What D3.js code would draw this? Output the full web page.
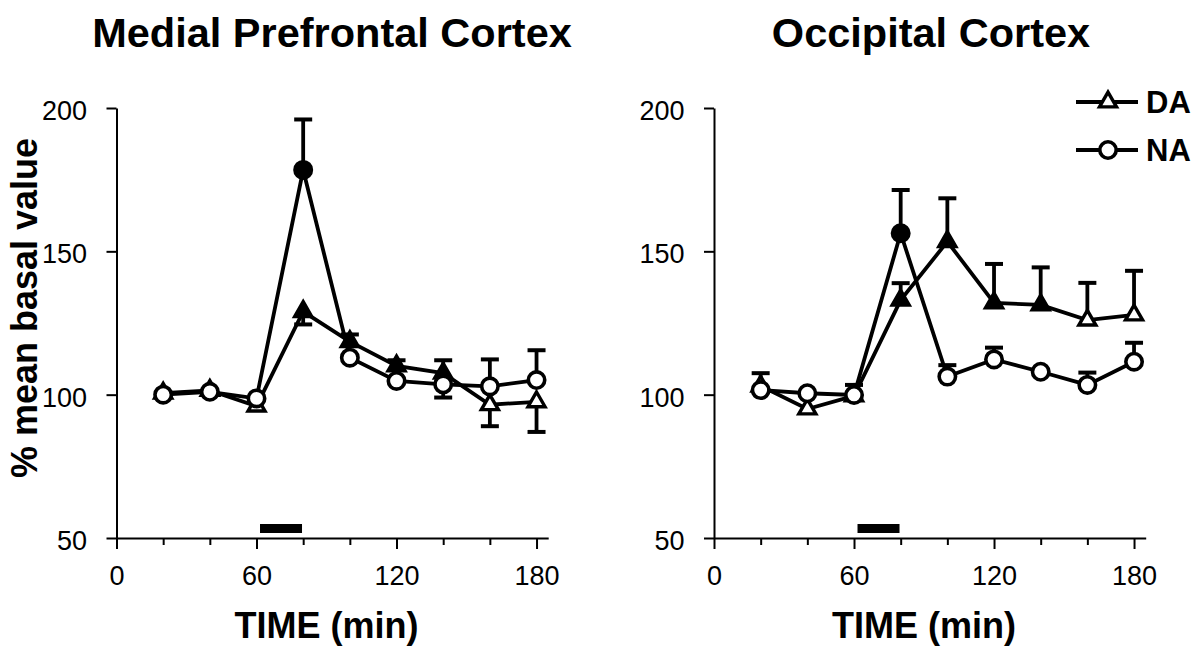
<!DOCTYPE html>
<html><head><meta charset="utf-8">
<script src="https://cdn.jsdelivr.net/npm/d3@7"></script>
<style>body{margin:0;background:#fff} svg{display:block} text{font-family:"Liberation Sans",Arial,sans-serif;fill:#000}</style>
</head><body><svg id="c" width="1200" height="657"></svg>
<script>
const times = [20,40,60,80,100,120,140,160,180];
const panelTitles = ["Medial Prefrontal Cortex","Occipital Cortex"];
const xTickLabels = [0,60,120,180];
const xMinorTicks = [20,40,80,100,140,160];
const yTickLabels = [50,100,150,200];
const seriesNames = ["DA","NA"];
const stimulus = [61.5,79.5];
const yLabel = "% mean basal value";
const xLabel = "TIME (min)";

// Medial prefrontal cortex
const mpfcDA = [100.5,101.5,96,129,118.5,110,107.5,96.5,97.5];
const mpfcDAErr = [null,null,null,124.5,121,112,112,89,87];
const mpfcDAFilled = [0,0,0,1,1,1,1,0,0];
const mpfcNA = [100,101,98.7,178.4,112.9,104.8,103.6,102.9,105.1];
const mpfcNAErr = [null,null,null,196,null,null,99,112.3,115.5];
const mpfcNAFilled = [0,0,0,1,0,0,0,0,0];

// Occipital cortex
const ocDA = [103,95,99.6,133,153.4,132,131.3,126,127.8];
const ocDAErr = [107.5,null,103.4,138.9,168.5,145.6,144.4,139,143.2];
const ocDAFilled = [0,0,0,1,1,1,1,0,0];
const ocNA = [101.6,100.5,99.9,156.3,106.3,112.3,108,103.4,111.5];
const ocNAErr = [null,null,null,171.4,110.3,116.4,null,107.7,118.1];
const ocNAFilled = [0,0,0,1,0,0,0,0,0];

const svg = d3.select("#c");

function triPath(s){const h=s*Math.sqrt(3)/2;return `M0,${-2*h/3}L${s/2},${h/3}L${-s/2},${h/3}Z`;}

const panels = [
  {x0:116.5, tx:332, title:panelTitles[0], DA:[mpfcDA,mpfcDAErr,mpfcDAFilled], NA:[mpfcNA,mpfcNAErr,mpfcNAFilled], ylab:true},
  {x0:714, tx:931, title:panelTitles[1], DA:[ocDA,ocDAErr,ocDAFilled], NA:[ocNA,ocNAErr,ocNAFilled], ylab:false}
];

panels.forEach(p=>{
  const x = d3.scaleLinear().domain([0,185]).range([p.x0, p.x0+431.7]);
  const y = d3.scaleLinear().domain([50,200]).range([538,108]);
  const g = svg.append("g");

  g.append("text").attr("x",p.tx).attr("y",47).attr("text-anchor","middle")
    .style("font-size","41.5px").style("font-weight","bold").text(p.title);

  // x axis major
  const xa = g.append("g").attr("transform","translate(0,538)")
    .call(d3.axisBottom(x).tickValues(xTickLabels).tickSize(11).tickSizeOuter(0));
  xa.select(".domain").attr("stroke","#000").attr("stroke-width",2);
  xa.selectAll(".tick line").attr("stroke","#000").attr("stroke-width",2);
  xa.selectAll(".tick text").attr("y",47).attr("dy",0).style("font-size","27px").attr("font-family",null);
  // x axis minor
  const xm = g.append("g").attr("transform","translate(0,538)")
    .call(d3.axisBottom(x).tickValues(xMinorTicks).tickSize(7).tickFormat(""));
  xm.select(".domain").remove();
  xm.selectAll(".tick line").attr("stroke","#000").attr("stroke-width",2);

  // y axis
  const ya = g.append("g").attr("transform",`translate(${p.x0},0)`)
    .call(d3.axisLeft(y).tickValues(yTickLabels).tickSize(10).tickSizeOuter(0));
  ya.select(".domain").attr("stroke","#000").attr("stroke-width",2);
  ya.selectAll(".tick line").attr("stroke","#000").attr("stroke-width",2);
  ya.selectAll(".tick text").attr("x",-29.5).attr("dy","0.42em").style("font-size","27px").attr("font-family",null);

  g.append("text").attr("x",(x(0)+x(180))/2).attr("y",638).attr("text-anchor","middle")
    .style("font-size","36px").style("font-weight","bold").text(xLabel);

  if(p.ylab){
    g.append("text").attr("transform","translate(37,308) rotate(-90)").attr("text-anchor","middle")
      .style("font-size","36px").style("font-weight","bold").text(yLabel);
  }

  // stimulus bar
  g.append("rect").attr("x",x(stimulus[0])).attr("y",524).attr("width",x(stimulus[1])-x(stimulus[0])).attr("height",9).attr("fill","#000");

  const line = d3.line().x((d,i)=>x(times[i])).y(d=>y(d));
  [p.DA,p.NA].forEach(s=>{
    g.append("path").attr("d",line(s[0])).attr("fill","none").attr("stroke","#000").attr("stroke-width",3.8);
  });

  [["DA",p.DA],["NA",p.NA]].forEach(([name,s])=>{
    const vals=s[0], errs=s[1], filled=s[2];
    times.forEach((t,i)=>{
      if(errs[i]==null) return;
      g.append("line").attr("x1",x(t)).attr("x2",x(t)).attr("y1",y(vals[i])).attr("y2",y(errs[i])).attr("stroke","#000").attr("stroke-width",3.8);
      g.append("line").attr("x1",x(t)-9).attr("x2",x(t)+9).attr("y1",y(errs[i])).attr("y2",y(errs[i])).attr("stroke","#000").attr("stroke-width",4);
    });
    times.forEach((t,i)=>{
      if(name==="DA"){
        g.append("path").attr("d",triPath(17)).attr("transform",`translate(${x(t)},${y(vals[i])})`)
          .attr("fill",filled[i]?"#000":"#fff").attr("stroke","#000").attr("stroke-width",3.4);
      } else {
        g.append("circle").attr("cx",x(t)).attr("cy",y(vals[i])).attr("r",8.2)
          .attr("fill",filled[i]?"#000":"#fff").attr("stroke","#000").attr("stroke-width",3.6);
      }
    });
  });
});

// legend
const leg = svg.append("g");
seriesNames.forEach((n,i)=>{
  const ly = [102,150][i];
  leg.append("line").attr("x1",1076).attr("x2",1138).attr("y1",ly).attr("y2",ly).attr("stroke","#000").attr("stroke-width",3.8);
  if(n==="DA"){
    leg.append("path").attr("d",triPath(17)).attr("transform",`translate(1108,${ly})`).attr("fill","#fff").attr("stroke","#000").attr("stroke-width",3.4);
  } else {
    leg.append("circle").attr("cx",1108).attr("cy",ly).attr("r",8.2).attr("fill","#fff").attr("stroke","#000").attr("stroke-width",3.6);
  }
  leg.append("text").attr("x",1146).attr("y",ly+10.5).style("font-size","31px").style("font-weight","bold").text(n);
});
</script></body></html>
